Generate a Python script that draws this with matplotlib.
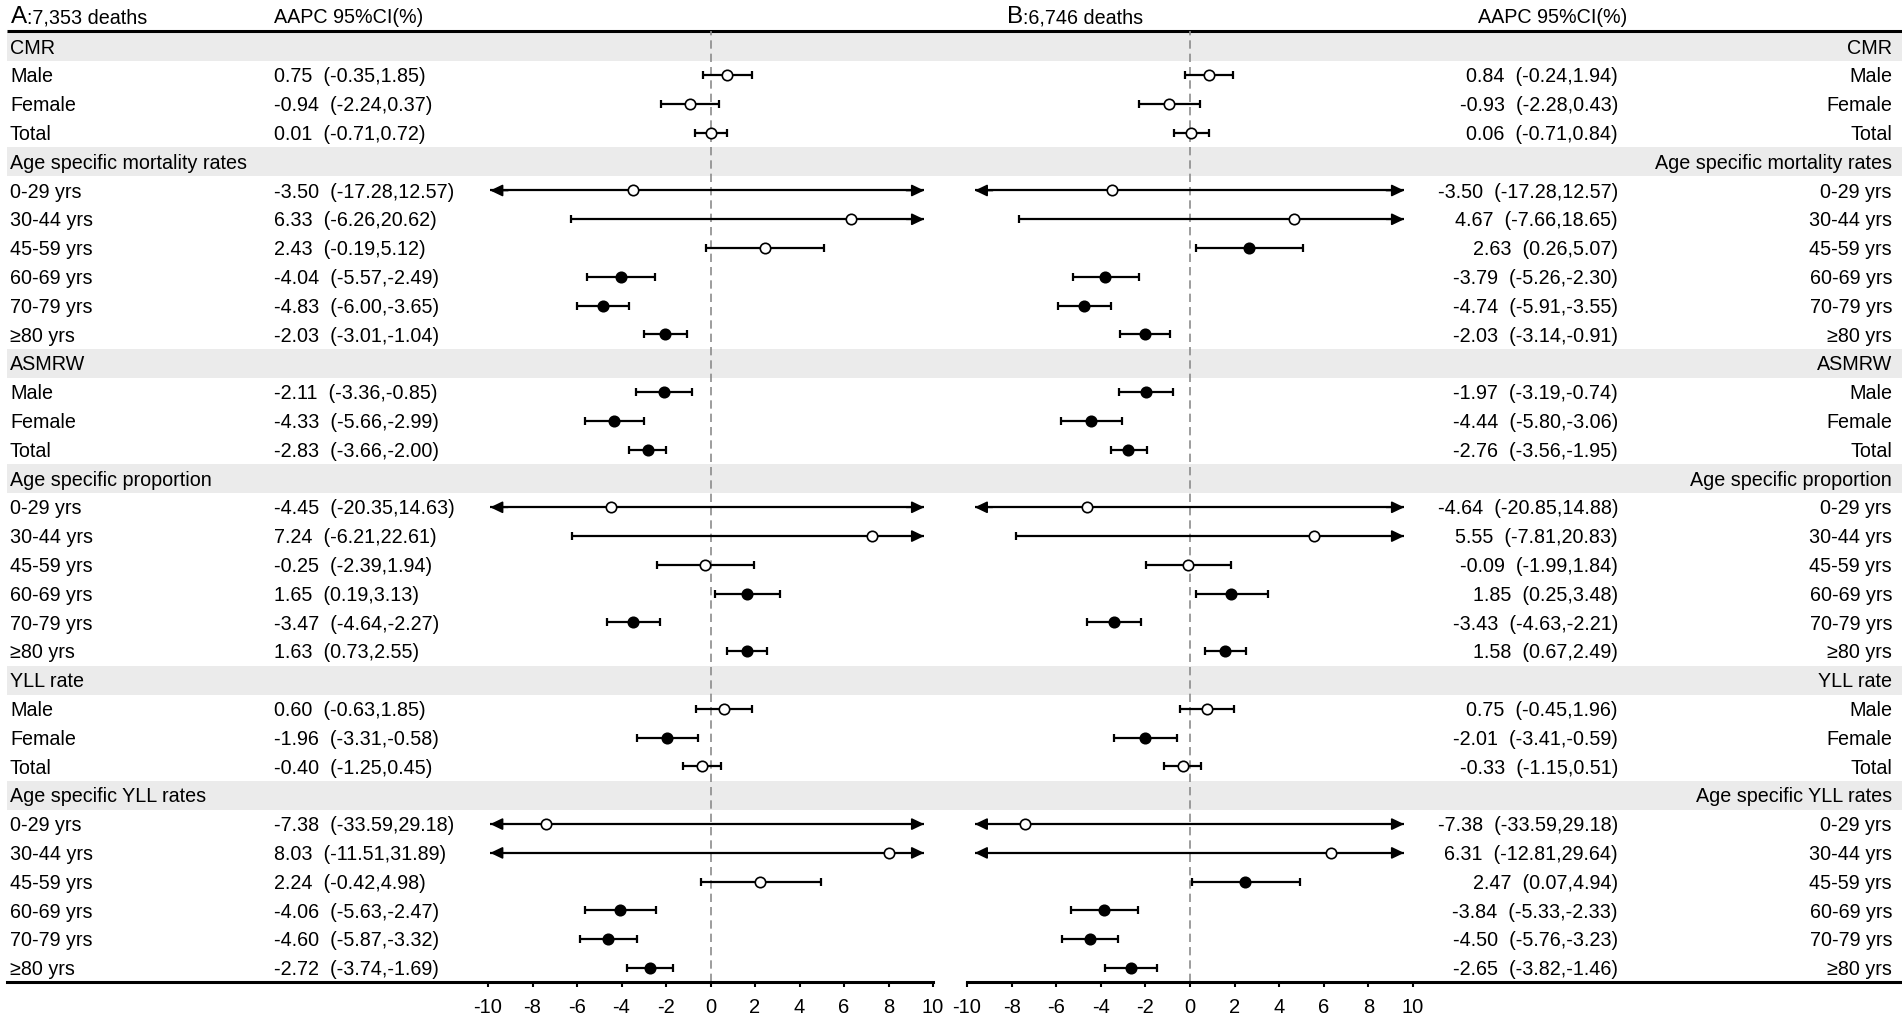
import matplotlib
matplotlib.use('Agg')
import matplotlib.pyplot as plt
from matplotlib.patches import Rectangle

plt.rcParams['font.family'] = ['Liberation Sans', 'DejaVu Sans']
plt.rcParams['axes.unicode_minus'] = False

# data
sections = ['CMR', 'Age specific mortality rates', 'ASMRW',
            'Age specific proportion', 'YLL rate', 'Age specific YLL rates']
sex_rows = ['Male', 'Female', 'Total']
age_rows = ['0-29 yrs', '30-44 yrs', '45-59 yrs', '60-69 yrs', '70-79 yrs', '\u226580 yrs']
section_rows = [sex_rows, age_rows, sex_rows, age_rows, sex_rows, age_rows]

a_title, a_deaths = 'A', ':7,353 deaths'
b_title, b_deaths = 'B', ':6,746 deaths'

a_aapc = [0.75, -0.94, 0.01,
          -3.50, 6.33, 2.43, -4.04, -4.83, -2.03,
          -2.11, -4.33, -2.83,
          -4.45, 7.24, -0.25, 1.65, -3.47, 1.63,
          0.60, -1.96, -0.40,
          -7.38, 8.03, 2.24, -4.06, -4.60, -2.72]
a_lo = [-0.35, -2.24, -0.71,
        -17.28, -6.26, -0.19, -5.57, -6.00, -3.01,
        -3.36, -5.66, -3.66,
        -20.35, -6.21, -2.39, 0.19, -4.64, 0.73,
        -0.63, -3.31, -1.25,
        -33.59, -11.51, -0.42, -5.63, -5.87, -3.74]
a_hi = [1.85, 0.37, 0.72,
        12.57, 20.62, 5.12, -2.49, -3.65, -1.04,
        -0.85, -2.99, -2.00,
        14.63, 22.61, 1.94, 3.13, -2.27, 2.55,
        1.85, -0.58, 0.45,
        29.18, 31.89, 4.98, -2.47, -3.32, -1.69]

b_aapc = [0.84, -0.93, 0.06,
          -3.50, 4.67, 2.63, -3.79, -4.74, -2.03,
          -1.97, -4.44, -2.76,
          -4.64, 5.55, -0.09, 1.85, -3.43, 1.58,
          0.75, -2.01, -0.33,
          -7.38, 6.31, 2.47, -3.84, -4.50, -2.65]
b_lo = [-0.24, -2.28, -0.71,
        -17.28, -7.66, 0.26, -5.26, -5.91, -3.14,
        -3.19, -5.80, -3.56,
        -20.85, -7.81, -1.99, 0.25, -4.63, 0.67,
        -0.45, -3.41, -1.15,
        -33.59, -12.81, 0.07, -5.33, -5.76, -3.82]
b_hi = [1.94, 0.43, 0.84,
        12.57, 18.65, 5.07, -2.30, -3.55, -0.91,
        -0.74, -3.06, -1.95,
        14.88, 20.83, 1.84, 3.48, -2.21, 2.49,
        1.96, -0.59, 0.51,
        29.18, 29.64, 4.94, -2.33, -3.23, -1.46]

ticks = list(range(-10, 11, 2))

# layout in pixels
W, H = 1902, 1021
Y0, DY = 46.5, 28.8
TOP, BOTTOM = 31, 982
FS = 14.2

fig = plt.figure(figsize=(W / 100, H / 100), dpi=100)
bg = fig.add_axes([0, 0, 1, 1])
bg.set_xlim(0, W)
bg.set_ylim(H, 0)
bg.axis('off')

# build row list
rows = []
for sec, labels in zip(sections, section_rows):
    rows.append(('header', sec))
    for lab in labels:
        rows.append(('data', lab))

# header
bg.text(11, 23, a_title, fontsize=17.5, va='baseline')
bg.text(27, 23, a_deaths, fontsize=FS, va='baseline')
bg.text(274, 23, 'AAPC 95%CI(%)', fontsize=FS, va='baseline')
bg.text(1007, 23, b_title, fontsize=17.5, va='baseline')
bg.text(1023, 23, b_deaths, fontsize=FS, va='baseline')
bg.text(1478, 23, 'AAPC 95%CI(%)', fontsize=FS, va='baseline')
bg.plot([7, W], [TOP, TOP], color='black', lw=2.2, solid_capstyle='butt')


def ci_text(v, lo, hi):
    return f'{v:.2f}  ({lo:.2f},{hi:.2f})'


row_y = []
k = 0
for i, (kind, lab) in enumerate(rows):
    y = Y0 + i * DY
    if kind == 'header':
        bg.add_patch(Rectangle((7, y - DY / 2), W - 7, DY, color='#ebebeb', lw=0, zorder=0))
        bg.text(10, y + 7, lab, fontsize=FS, va='baseline')
        bg.text(1892, y + 7, lab, fontsize=FS, va='baseline', ha='right')
    else:
        bg.text(10, y + 7, lab, fontsize=FS, va='baseline')
        bg.text(1892, y + 7, lab, fontsize=FS, va='baseline', ha='right')
        bg.text(274, y + 7, ci_text(a_aapc[k], a_lo[k], a_hi[k]), fontsize=FS, va='baseline')
        bg.text(1618, y + 7, ci_text(b_aapc[k], b_lo[k], b_hi[k]), fontsize=FS, va='baseline', ha='right')
        row_y.append(y)
        k += 1


def forest(x0, x1, xlim, aapc, lo, hi, clip):
    ax = fig.add_axes([x0 / W, (H - BOTTOM) / H, (x1 - x0) / W, (BOTTOM - TOP) / H])
    ax.patch.set_alpha(0)
    ax.set_xlim(*xlim)
    ax.set_ylim(BOTTOM, TOP)
    for s in ['top', 'left', 'right']:
        ax.spines[s].set_visible(False)
    ax.spines['bottom'].set_linewidth(2.2)
    ax.set_yticks([])
    ax.set_xticks(ticks)
    ax.set_xticklabels([str(t) for t in ticks])
    ax.tick_params(axis='x', length=3.8, width=1.5, pad=8, labelsize=14.5)
    ax.axvline(0, color='#8c8c8c', lw=1.2, ls=(0, (5, 3)), zorder=1)

    arrow = dict(arrowstyle='-|>,head_length=0.75,head_width=0.36', color='black',
                 lw=1.2, shrinkA=0, shrinkB=0)
    for y, v, l, h in zip(row_y, aapc, lo, hi):
        a = max(l, clip[0])
        b = min(h, clip[1])
        ax.plot([a, b], [y, y], color='black', lw=1.6, zorder=2, solid_capstyle='butt')
        if l < clip[0]:
            ax.annotate('', xy=(a, y), xytext=(a + 0.8, y), arrowprops=arrow, zorder=3)
        else:
            ax.plot([a], [y], marker='|', ms=6, mew=1.6, color='black', zorder=3)
        if h > clip[1]:
            ax.annotate('', xy=(b, y), xytext=(b - 0.8, y), arrowprops=arrow, zorder=3)
        else:
            ax.plot([b], [y], marker='|', ms=6, mew=1.6, color='black', zorder=3)
        sig = l > 0 or h < 0
        ax.plot([v], [y], marker='o', ms=7.5, mew=1.2, mec='black',
                mfc='black' if sig else 'white', zorder=4)
    return ax


# left panel: -10 at 488px, 10 at 933px; right: -10 at 967px, 10 at 1413px
sl = (933 - 488) / 20
forest(7, 933, (-10 - (488 - 7) / sl, 10), a_aapc, a_lo, a_hi, (-9.9, 9.6))
sr = (1413 - 967) / 20
forest(967, W, (-10, 10 + (W - 1413) / sr), b_aapc, b_lo, b_hi, (-9.65, 9.6))

fig.savefig('out.png', dpi=100)
